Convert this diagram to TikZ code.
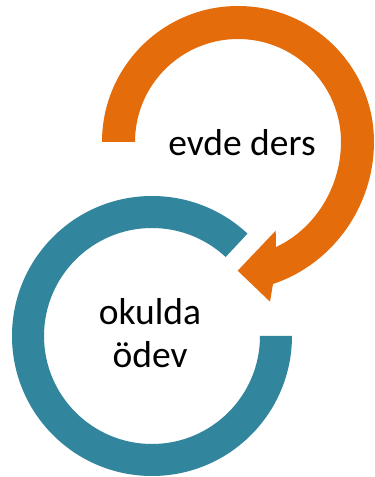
\documentclass[tikz,border=0pt]{standalone}
\usepackage{fontspec}
\setmainfont{Carlito}
\usetikzlibrary{calc}
\definecolor{ringorange}{HTML}{E46C0A}
\definecolor{ringblue}{HTML}{31859C}
\begin{document}
\begin{tikzpicture}[x=1pt,y=1pt,
  label/.style={inner sep=0pt, anchor=base, text=black,
    font=\fontsize{37.5}{43}\selectfont}]
\useasboundingbox (0,0) rectangle (375,477);
\fill[white] (0,0) rectangle (375,477);

% centres of the two rings
\coordinate (oc) at (238,335);
\coordinate (bc) at (152,141);

% blue ring, open at the upper right
\fill[ringblue] ($(bc)+(47:140)$) arc[start angle=47, end angle=360, radius=140]
  -- ($(bc)+(0:108)$) arc[start angle=360, end angle=47, radius=108] -- cycle;

% orange ring ending in an arrow head pointing to the blue ring
\fill[ringorange] ($(oc)+(180:136)$) arc[start angle=180, end angle=0, radius=136]
  .. controls (374,272) and (334,213.5) .. (273,193)
  -- (270,175.3) -- (237.7,206.3) -- (275.7,246.3) -- (276,230)
  .. controls (315,248) and (341,290) .. ($(oc)+(0:103)$)
  arc[start angle=0, end angle=180, radius=103] -- cycle;

\node[label] (evde) at (242,321.5) {evde ders};
\node[label] (okulda) at (150,152) {okulda};
\node[label] (odev) at (150,109) {ödev};
\end{tikzpicture}
\end{document}
